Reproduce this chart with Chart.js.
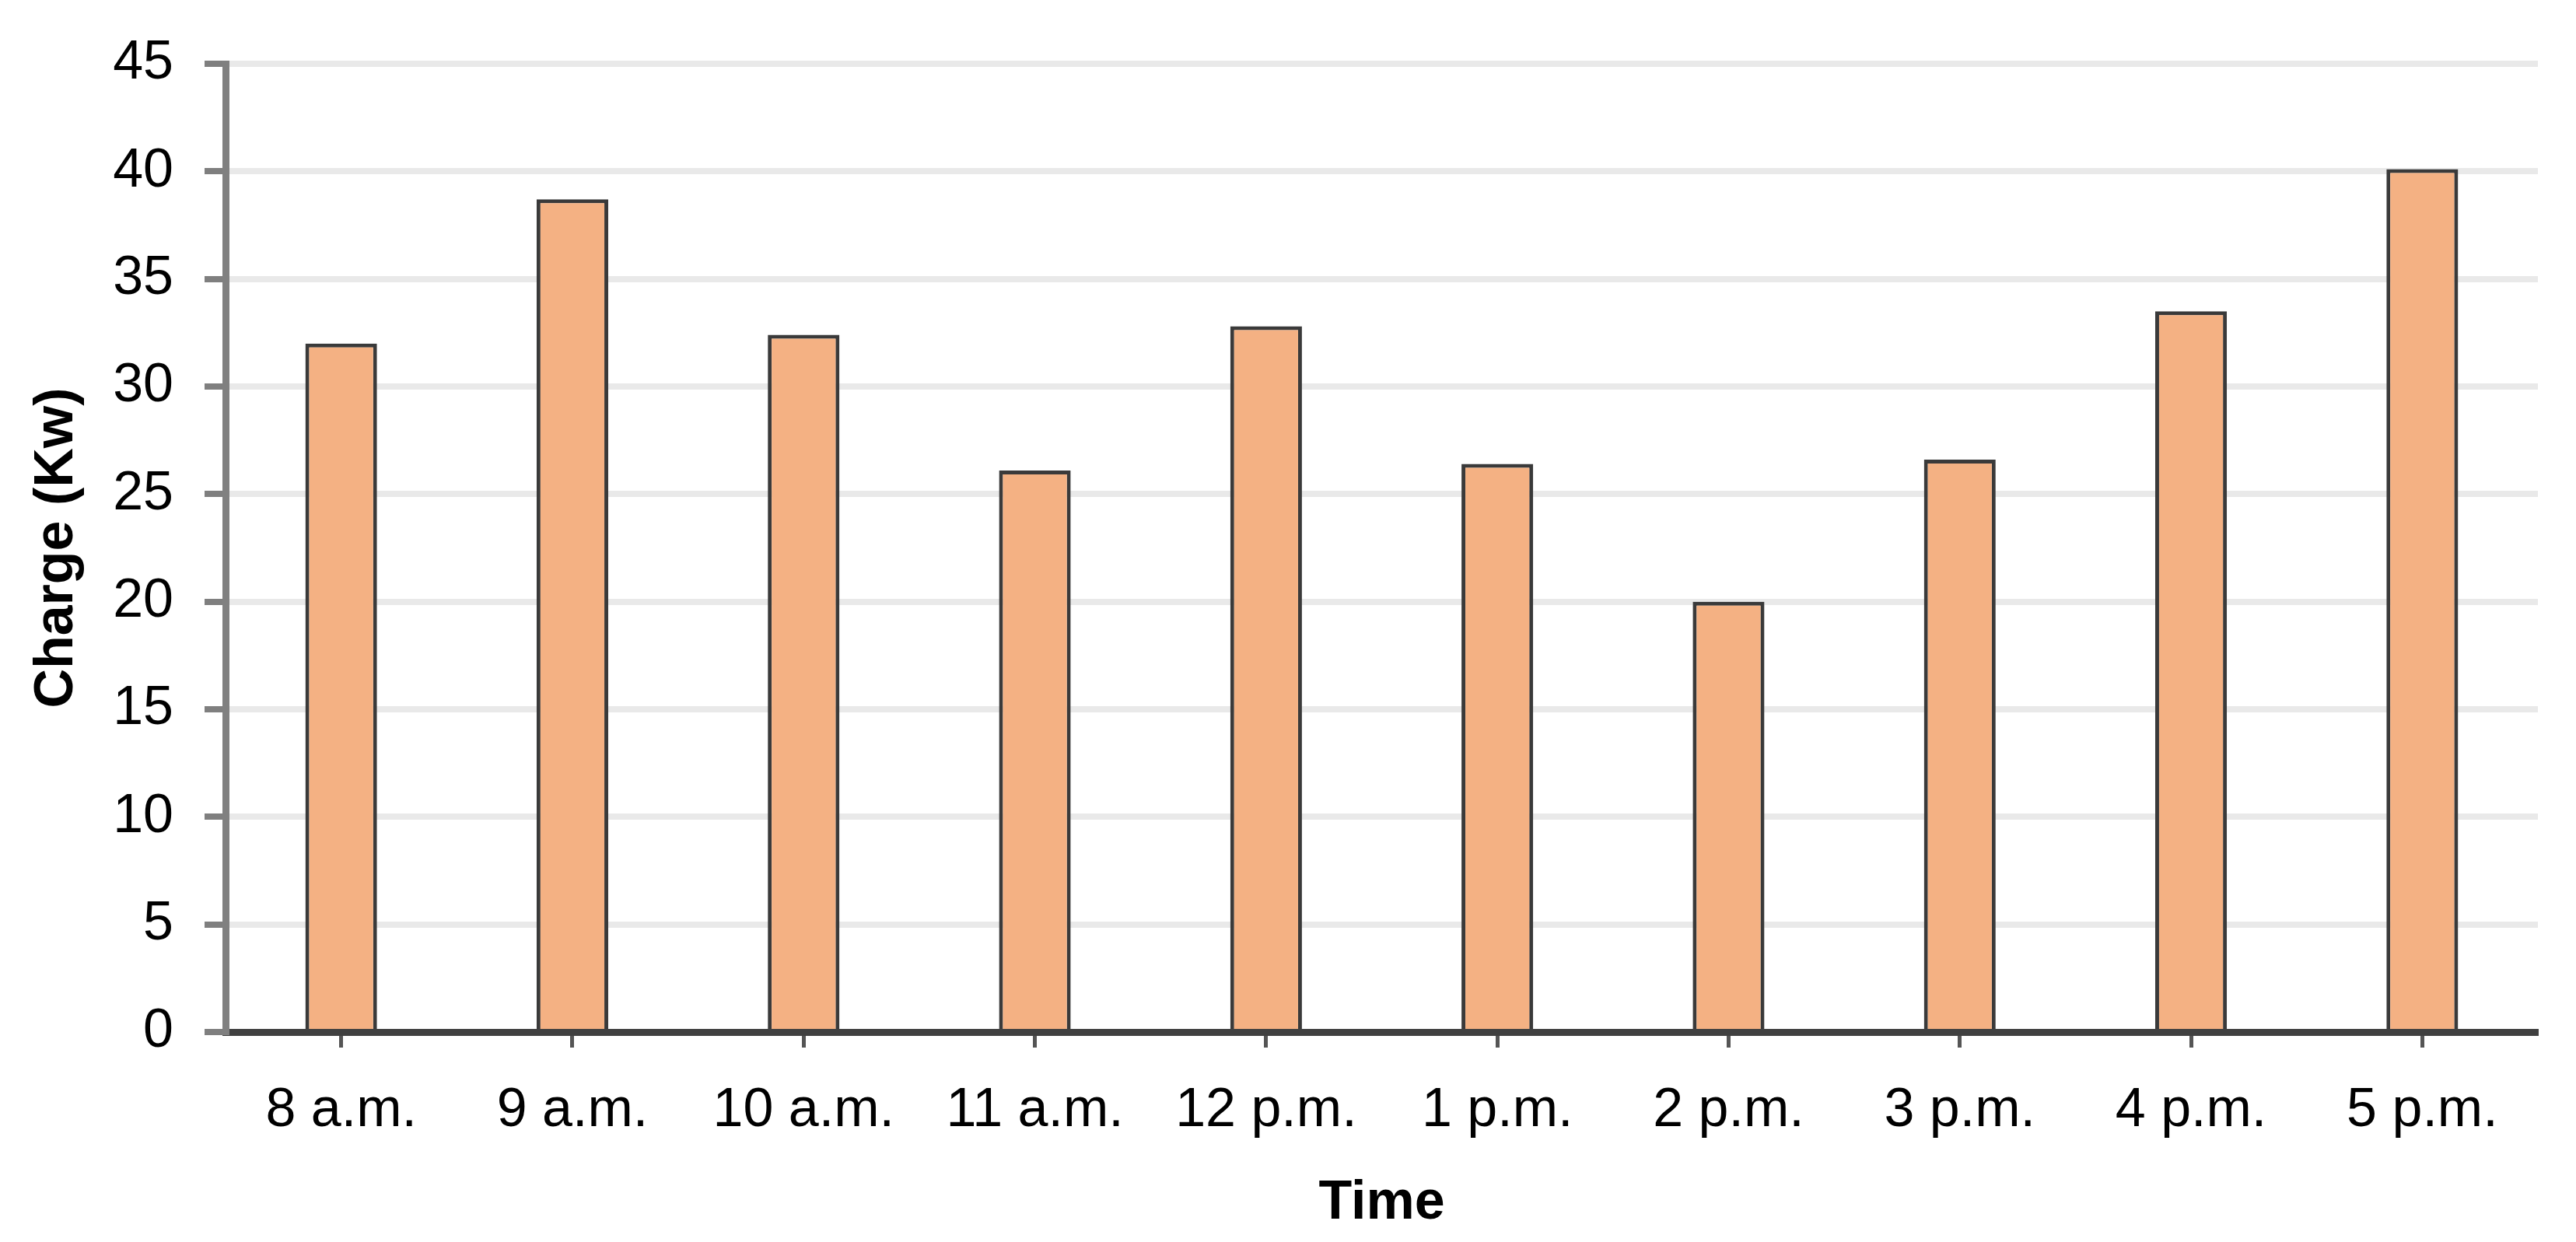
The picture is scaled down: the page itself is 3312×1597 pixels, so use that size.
<!DOCTYPE html>
<html>
<head>
<meta charset="utf-8">
<script src="https://cdn.jsdelivr.net/npm/chart.js@4.4.0/dist/chart.umd.min.js"></script>
<style>
    html, body { margin: 0; padding: 0; background: #ffffff; }
    #wrap { width: 3312px; height: 1597px; }
</style>
</head>
<body>
<div id="wrap"><canvas id="chargeChart" width="3312" height="1597"></canvas></div>
<script>
const categories = ['8 a.m.', '9 a.m.', '10 a.m.', '11 a.m.', '12 p.m.', '1 p.m.', '2 p.m.', '3 p.m.', '4 p.m.', '5 p.m.'];
const chargeKw = [32.0, 38.7, 32.4, 26.1, 32.8, 26.4, 20.0, 26.6, 33.5, 40.1];
const yMin = 0;
const yMax = 45;
const yStep = 5;

const tickFont = { family: '"Liberation Sans", Arial, sans-serif', size: 70 };
const titleFont = { family: '"Liberation Sans", Arial, sans-serif', size: 70, weight: 'bold' };

document.addEventListener('DOMContentLoaded', () => {
    const ctx = document.getElementById('chargeChart').getContext('2d');
    new Chart(ctx, {
        type: 'bar',
        data: {
            labels: categories,
            datasets: [{
                label: 'Charge (Kw)',
                data: chargeKw,
                backgroundColor: '#F4B183',
                borderColor: '#3a3a3a',
                borderWidth: 5,
                categoryPercentage: 1.0,
                barPercentage: 0.31
            }]
        },
        options: {
            responsive: false,
            animation: false,
            devicePixelRatio: 1,
            layout: {
                padding: { top: 81, right: 49, bottom: 0, left: 0 }
            },
            plugins: {
                legend: { display: false },
                tooltip: { enabled: false }
            },
            scales: {
                x: {
                    offset: true,
                    grid: {
                        offset: false,
                        drawOnChartArea: false,
                        tickLength: 20,
                        tickColor: '#555555',
                        tickWidth: 5
                    },
                    border: { color: '#404040', width: 9 },
                    ticks: {
                        color: '#000000',
                        font: tickFont,
                        padding: 40,
                        maxRotation: 0,
                        autoSkip: false
                    },
                    title: {
                        display: true,
                        text: 'Time',
                        color: '#000000',
                        font: titleFont,
                        padding: { top: 35, bottom: 7 }
                    },
                    afterFit: (scale) => { scale.height = 270; }
                },
                y: {
                    min: yMin,
                    max: yMax,
                    grid: {
                        color: '#e9e9e9',
                        lineWidth: 8,
                        tickLength: 27,
                        tickColor: '#7f7f7f',
                        tickWidth: 8
                    },
                    border: { color: '#808080', width: 9 },
                    ticks: {
                        stepSize: yStep,
                        color: '#000000',
                        font: tickFont,
                        padding: 40
                    },
                    title: {
                        display: true,
                        text: 'Charge (Kw)',
                        color: '#000000',
                        font: titleFont,
                        padding: { top: 32, bottom: 0 }
                    },
                    afterFit: (scale) => { scale.width = 290; }
                }
            }
        }
    });
});
</script>
</body>
</html>
